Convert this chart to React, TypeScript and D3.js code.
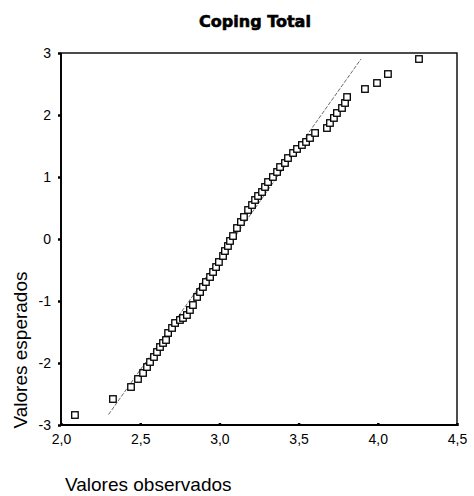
import React, { useEffect, useRef } from 'react'
import * as d3 from 'd3'

const observed = [2.088, 2.328, 2.442, 2.486, 2.518, 2.543, 2.562, 2.587, 2.606, 2.625, 2.644, 2.663, 2.676, 2.701, 2.720, 2.751, 2.770, 2.795, 2.814, 2.833, 2.859, 2.878, 2.896, 2.915, 2.941, 2.960, 2.979, 2.997, 3.023, 3.035, 3.054, 3.067, 3.086, 3.111, 3.136, 3.155, 3.181, 3.206, 3.225, 3.244, 3.269, 3.288, 3.307, 3.338, 3.364, 3.383, 3.414, 3.433, 3.465, 3.490, 3.521, 3.547, 3.572, 3.604, 3.679, 3.698, 3.723, 3.742, 3.774, 3.793, 3.806, 3.919, 3.995, 4.064, 4.260]
const expected = [-2.839, -2.581, -2.387, -2.258, -2.161, -2.065, -1.984, -1.903, -1.823, -1.742, -1.677, -1.629, -1.516, -1.435, -1.355, -1.306, -1.274, -1.226, -1.145, -1.065, -0.935, -0.855, -0.774, -0.694, -0.613, -0.532, -0.452, -0.371, -0.274, -0.194, -0.113, -0.032, 0.048, 0.177, 0.274, 0.355, 0.468, 0.548, 0.629, 0.694, 0.758, 0.839, 0.919, 1.0, 1.081, 1.161, 1.226, 1.306, 1.387, 1.452, 1.516, 1.565, 1.629, 1.710, 1.790, 1.871, 1.952, 2.032, 2.113, 2.194, 2.290, 2.419, 2.516, 2.661, 2.903]

// reference normal line
const lineMean = 3.087
const lineSd = 0.278
const lineRange = [2.30, 3.894]

const xTicks = [2.0, 2.5, 3.0, 3.5, 4.0, 4.5]
const yTicks = [-3, -2, -1, 0, 1, 2, 3]

const App = () => {
  const svgRef = useRef<SVGSVGElement>(null)

  useEffect(() => {
    const width = 474
    const height = 496
    const m = { left: 61, top: 53, right: 457, bottom: 425 }
    const svg = d3.select(svgRef.current)
    svg.selectAll('*').remove()
    svg.attr('width', width).attr('height', height)
      .style('position', 'absolute').style('left', 0).style('top', 0)
      .style('background', '#fff')

    const x = d3.scaleLinear().domain([2, 4.5]).range([m.left, m.right])
    const y = d3.scaleLinear().domain([-3, 3]).range([m.bottom, m.top])

    // frame
    svg.append('rect')
      .attr('x', m.left).attr('y', m.top)
      .attr('width', m.right - m.left).attr('height', m.bottom - m.top)
      .attr('fill', 'none').attr('stroke', '#000').attr('stroke-width', 1.4)
    // left + bottom axis a bit heavier
    svg.append('path')
      .attr('d', `M${m.left},${m.top}V${m.bottom}H${m.right}`)
      .attr('fill', 'none').attr('stroke', '#000').attr('stroke-width', 1.8)

    const xAxis = d3.axisBottom(x).tickValues(xTicks).tickSize(3)
      .tickFormat(d => d3.format('.1f')(d as number).replace('.', ','))
    const yAxis = d3.axisLeft(y).tickValues(yTicks).tickSize(4)
      .tickFormat(d => String(d))

    const gx = svg.append('g').attr('transform', `translate(0,${m.bottom})`).call(xAxis)
    const gy = svg.append('g').attr('transform', `translate(${m.left},0)`).call(yAxis)
    ;[gx, gy].forEach(g => {
      g.select('.domain').remove()
      g.selectAll('line').attr('stroke', '#000').attr('stroke-width', 2.5)
      g.selectAll('text')
        .attr('fill', '#000')
        .style('font-family', '"Liberation Sans", Arial, sans-serif')
        .style('font-size', '14px')
    })
    gx.selectAll('line').attr('y1', -2).attr('y2', 1)
    gx.selectAll('text').attr('dy', '0.71em').attr('y', 9)
    gy.selectAll('line').attr('x1', -3).attr('x2', 0)
    gy.selectAll('text').attr('x', -10)

    // reference line
    svg.append('line')
      .attr('x1', x(lineRange[0])).attr('y1', y((lineRange[0] - lineMean) / lineSd))
      .attr('x2', x(lineRange[1])).attr('y2', y((lineRange[1] - lineMean) / lineSd))
      .attr('stroke', '#444').attr('stroke-width', 0.8)
      .attr('stroke-dasharray', '4 1.5')

    // points
    const s = 6.5
    svg.selectAll('.pt').data(observed).join('rect')
      .attr('class', 'pt')
      .attr('x', (v) => x(v) - s / 2)
      .attr('y', (v, i) => y(expected[i]) - s / 2)
      .attr('width', s).attr('height', s)
      .attr('fill', '#fff').attr('stroke', '#000').attr('stroke-width', 1.3)

    // title and axis labels
    svg.append('text')
      .attr('x', 255).attr('y', 27)
      .attr('text-anchor', 'middle')
      .attr('stroke', '#000').attr('stroke-width', 0.6)
      .style('font-family', '"DejaVu Sans", sans-serif')
      .style('font-weight', 'bold')
      .style('font-size', '16px')
      .text('Coping Total')

    svg.append('text')
      .attr('x', 65).attr('y', 491)
      .style('font-family', '"Liberation Sans", Arial, sans-serif')
      .style('font-size', '19px')
      .text('Valores observados')

    svg.append('text')
      .attr('transform', 'translate(27,350) rotate(-90)')
      .attr('text-anchor', 'middle')
      .style('font-family', '"Liberation Sans", Arial, sans-serif')
      .style('font-size', '19px')
      .text('Valores esperados')
  }, [])

  return <svg ref={svgRef}></svg>
}

export default App
